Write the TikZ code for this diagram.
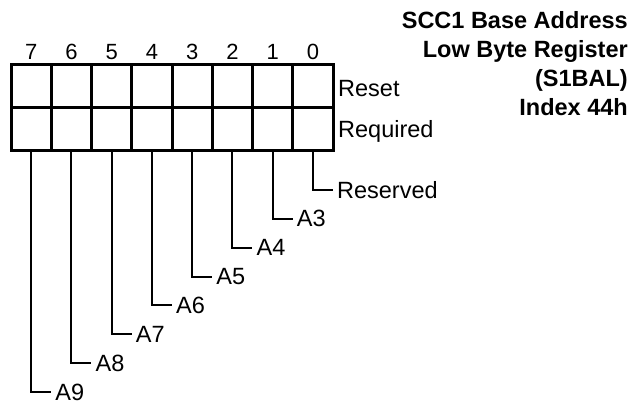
\documentclass[tikz,border=0pt]{standalone}
\usepackage{fontspec}
\setmainfont{Liberation Sans}
\usetikzlibrary{positioning, calc}

\begin{document}
\begin{tikzpicture}[
    x=1pt, y=-1pt,
    % 定义样式
    cell/.style={draw, line width=3pt, minimum width=40.25pt, minimum height=42.5pt, inner sep=0pt, outer sep=0pt},
    bitnum/.style={font=\fontsize{22}{25}\selectfont, inner sep=0pt},
    lbl/.style={font=\fontsize{23.5}{27}\selectfont, inner xsep=4pt, inner ysep=0pt, anchor=west},
    title/.style={font=\fontsize{23.5}{29}\selectfont\bfseries, align=right, inner sep=0pt},
    leader/.style={line width=2pt}
]
\useasboundingbox (0,0) rectangle (642,401);

% --- 配置参数 ---
\def\cellw{40.25} % 单元格宽度
\def\pitch{28.85} % 引线间距

% --- 绘制寄存器单元 ---
\foreach \b [evaluate=\b as \cx using 31.125+\cellw*(7-\b)] in {0,...,7} {
    \node[cell] (rst-\b) at (\cx, 86.25) {};
    \node[cell] (req-\b) at (\cx, 128.75) {};
    \node[bitnum, above=5pt of rst-\b] (bit-\b) {\b};
}

% --- 行标签 ---
\node[lbl, anchor=base west] (reset) at ([xshift=1pt, yshift=-10.75pt]rst-0.east) {Reset};
\node[lbl, anchor=base west] (required) at ([xshift=1pt, yshift=-9.25pt]req-0.east) {Required};

% --- 位名称与引线 ---
\foreach \b/\t [evaluate=\b as \cx using 31.125+\cellw*(7-\b)+20,
                evaluate=\b as \ly using 190+\pitch*\b] in
        {0/Reserved, 1/A3, 2/A4, 3/A5, 4/A6, 5/A7, 6/A8, 7/A9} {
    \node[lbl] (sig-\b) at (\cx, \ly) {\t};
    \draw[leader] (req-\b.south) |- (sig-\b.west);
}

% --- 标题 ---
\node[title, anchor=north east] (title) at (628, 11)
    {SCC1 Base Address\\Low Byte Register\\(S1BAL)\\Index 44h};

\end{tikzpicture}
\end{document}
